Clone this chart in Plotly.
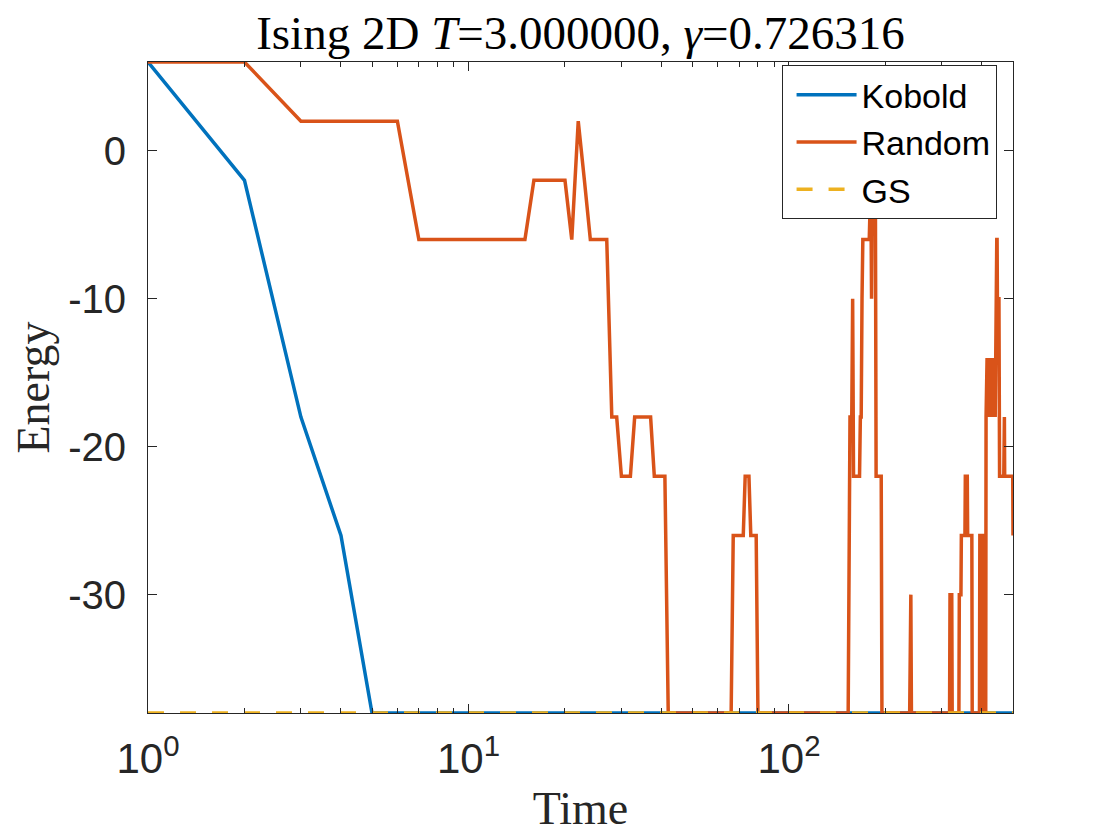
import math
import plotly.graph_objects as go

# Energy traces. Only the time steps where a curve
# changes direction are listed; between them the curve is a straight segment.
KOBOLD_T = [1, 2, 3, 4, 5, 500]
KOBOLD_E = [6, -2, -18, -26, -38, -38]

RANDOM_T = [
    1, 2, 3, 6, 7, 15, 16, 20, 21, 22, 23, 24, 27, 28, 29, 30, 32, 33, 37, 38,
    41, 42, 66, 67, 72, 73, 75, 76, 79, 80,
    153, 154, 155, 157, 158, 159, 166, 167, 168, 169, 170, 178, 179, 180, 181,
    182, 186, 187, 194, 195,
    238, 239, 240, 241, 317, 318, 322, 323, 339, 340, 344, 345, 354, 355, 360,
    361, 372, 373, 393, 394, 398, 399, 400, 404, 405, 406, 408, 409, 411,
    412, 413, 414, 415, 416, 417, 418, 419, 420, 421, 422, 423, 424, 425, 426,
    427, 428, 429, 430, 431, 432, 433, 434, 435, 436, 437, 438, 439, 440, 441,
    442, 443,
    444, 445, 446, 447, 452, 453, 454, 468, 469, 470, 471, 499, 500,
]
RANDOM_E = [
    6, 6, 2, 2, -6, -6, -2, -2, -6, 2, -2, -6, -6, -18, -18, -22, -22, -18, -18, -22,
    -22, -38, -38, -26, -26, -22, -22, -26, -26, -38,
    -38, -26, -18, -18, -10, -22, -22, -18, -18, -10, -6, -6, -2, -2, -10,
    -2, -2, -22, -22, -38,
    -38, -30, -30, -38, -38, -30, -30, -38, -38, -30, -30, -26, -26, -22, -22,
    -26, -26, -38, -38, -26, -26, -38, -26, -26, -38, -26, -26, -38, -38,
    -18, -14, -18, -14, -18, -14, -18, -14, -18, -14, -18, -14, -18, -14, -18,
    -14, -18, -14, -18, -14, -18, -14, -18, -14, -18, -14, -18, -14, -18, -14,
    -18, -14,
    -10, -6, -6, -10, -10, -18, -22, -22, -18, -18, -22, -22, -26,
]

GS_T = [1, 500]
GS_E = [-38, -38]

X_TICKS = [1, 10, 100]
X_TICK_TEXT = ["10<sup>0</sup>", "10<sup>1</sup>", "10<sup>2</sup>"]
X_MINOR = [2, 3, 4, 5, 6, 7, 8, 9, 20, 30, 40, 50, 60, 70, 80, 90, 200, 300, 400]
Y_TICKS = [-30, -20, -10, 0]
Y_TICK_TEXT = ["-30", "-20", "-10", "0"]
X_MAX = 500
Y_RANGE = [-38, 6]

BLUE = "#0072BD"
ORANGE = "#D95319"
YELLOW = "#EDB120"
AXIS_COLOR = "#262626"
SANS = "Liberation Sans"
SERIF = "Liberation Serif"

assert len(RANDOM_T) == len(RANDOM_E)

fig = go.Figure()
fig.add_trace(go.Scatter(x=KOBOLD_T, y=KOBOLD_E, mode="lines", name="Kobold",
                         line=dict(color=BLUE, width=3.5)))
fig.add_trace(go.Scatter(x=RANDOM_T, y=RANDOM_E, mode="lines", name="Random",
                         line=dict(color=ORANGE, width=3.5)))
fig.add_trace(go.Scatter(x=GS_T, y=GS_E, mode="lines", name="GS",
                         line=dict(color=YELLOW, width=3.5, dash="16px,16px")))

# the page body adds an 8px offset, so margins are set 8px smaller on top/left
fig.update_layout(
    width=1120, height=840,
    margin=dict(l=138, r=115, t=54, b=135),
    paper_bgcolor="white", plot_bgcolor="white",
    showlegend=True,
    title=dict(text="Ising 2D <i>T</i>=3.000000, <i>γ</i>=0.726316",
               x=0.5, xref="paper", xanchor="center",
               y=1 - 41 / 840, yref="container", yanchor="bottom",
               font=dict(family=SERIF, size=47, color="black")),
    legend=dict(x=0.981, y=0.995, xanchor="right", yanchor="top",
                bgcolor="white", bordercolor=AXIS_COLOR, borderwidth=1,
                font=dict(family=SANS, size=34, color="black"),
                itemwidth=60, tracegroupgap=0, indentation=9),
)

fig.update_xaxes(
    type="log", range=[0, math.log10(X_MAX)],
    tickvals=X_TICKS, ticktext=X_TICK_TEXT,
    ticks="inside", ticklen=9, tickwidth=1, tickcolor=AXIS_COLOR,
    minor=dict(tickvals=X_MINOR, ticks="inside", ticklen=5, tickwidth=1,
               tickcolor=AXIS_COLOR),
    showline=True, linecolor=AXIS_COLOR, linewidth=1, mirror="allticks",
    showgrid=False, zeroline=False,
    tickfont=dict(family=SANS, size=42, color=AXIS_COLOR),
    ticklabelstandoff=9,
    title=dict(text="Time", standoff=10,
               font=dict(family=SERIF, size=46, color=AXIS_COLOR)),
)
fig.update_yaxes(
    range=Y_RANGE, tickvals=Y_TICKS, ticktext=Y_TICK_TEXT,
    ticks="inside", ticklen=9, tickwidth=1, tickcolor=AXIS_COLOR,
    showline=True, linecolor=AXIS_COLOR, linewidth=1, mirror="allticks",
    showgrid=False, zeroline=False,
    tickfont=dict(family=SANS, size=40, color=AXIS_COLOR),
    ticklabelstandoff=13,
    title=dict(text="Energy", standoff=16,
               font=dict(family=SERIF, size=46, color=AXIS_COLOR)),
)

fig.write_html("out.html")
